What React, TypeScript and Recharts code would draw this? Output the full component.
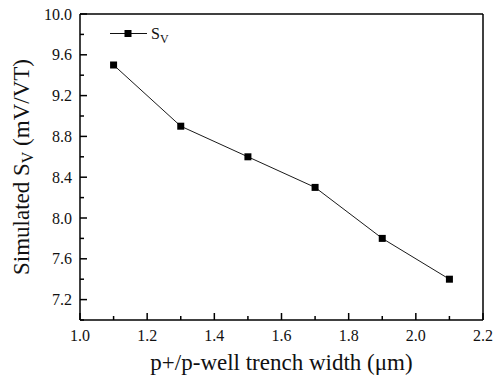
import React from "react";
import { LineChart, Line, XAxis, YAxis, Legend, ReferenceLine } from "recharts";

// Trench width (µm) vs simulated voltage sensitivity S_V (mV/VT)
const trenchWidth = [1.1, 1.3, 1.5, 1.7, 1.9, 2.1];
const svValues = [9.5, 8.9, 8.6, 8.3, 7.8, 7.4];

// All tick positions (major + minor) and the labelled major ones
const xTicks = [1.0, 1.1, 1.2, 1.3, 1.4, 1.5, 1.6, 1.7, 1.8, 1.9, 2.0, 2.1, 2.2];
const xTickLabels = ["1.0", "1.2", "1.4", "1.6", "1.8", "2.0", "2.2"];
const yTicks = [7.0, 7.2, 7.4, 7.6, 7.8, 8.0, 8.2, 8.4, 8.6, 8.8, 9.0, 9.2, 9.4, 9.6, 9.8, 10.0];
const yTickLabels = ["7.2", "7.6", "8.0", "8.4", "8.8", "9.2", "9.6", "10.0"];

const data = trenchWidth.map((w, i) => ({ w, sv: svValues[i] }));

const INK = "#000";
const FONT = '"Liberation Serif", "Times New Roman", serif';
const serif = { fontFamily: FONT };

const XTick = (props: any) => {
  const { x, y, payload } = props;
  const label = Number(payload.value).toFixed(1);
  const major = xTickLabels.includes(label);
  return (
    <g>
      <line x1={x} y1={y} x2={x} y2={y - (major ? 7 : 4)} stroke={INK} strokeWidth={1.5} />
      {major && (
        <text x={x} y={y + 21} textAnchor="middle" style={serif} fontSize={16} fill="#111">
          {label}
        </text>
      )}
    </g>
  );
};

const YTick = (props: any) => {
  const { x, y, payload } = props;
  const label = Number(payload.value).toFixed(1);
  const major = yTickLabels.includes(label);
  return (
    <g>
      <line x1={x} y1={y} x2={x + (major ? 7 : 4)} y2={y} stroke={INK} strokeWidth={1.5} />
      {major && (
        <text x={x - 8} y={y + 5.5} textAnchor="end" style={serif} fontSize={16} fill="#111">
          {label}
        </text>
      )}
    </g>
  );
};

const XLabel = (props: any) => {
  const vb = props.viewBox || {};
  const cx = vb.x + vb.width / 2;
  return (
    <text x={cx} y={vb.y + 50} textAnchor="middle" style={serif} fontSize={23} fill="#111">
      p+/p-well trench width (μm)
    </text>
  );
};

const YLabel = (props: any) => {
  const vb = props.viewBox || {};
  const cy = vb.y + vb.height / 2;
  const bx = 29;
  return (
    <text
      x={bx}
      y={cy}
      transform={`rotate(-90, ${bx}, ${cy})`}
      textAnchor="middle"
      style={serif}
      fontSize={23}
      fill="#111"
    >
      Simulated S
      <tspan fontSize={16} dy={4}>V</tspan>
      <tspan dy={-4}> (mV/VT)</tspan>
    </text>
  );
};

const SquareDot = (props: any) => {
  const { cx, cy } = props;
  if (cx == null || cy == null) return null;
  return <rect x={cx - 3.5} y={cy - 3.5} width={7} height={7} fill="#000" />;
};

const LegendContent = () => (
  <svg width={100} height={26} style={{ display: "block" }}>
    <line x1={5} y1={11.5} x2={42} y2={11.5} stroke="#111" strokeWidth={1} />
    <rect x={19.5} y={8} width={7} height={7} fill="#000" />
    <text x={46} y={17} style={serif} fontSize={16} fill="#111">
      S<tspan fontSize={12} dy={4}>V</tspan>
    </text>
  </svg>
);

export default function App() {
  return (
    <div style={{ position: "absolute", left: 0, top: 0, background: "#fff" }}>
      <LineChart width={499} height={380} data={data} margin={{ top: 14, right: 16, bottom: 0, left: 0 }}>
        <XAxis
          dataKey="w"
          type="number"
          domain={[1.0, 2.2]}
          ticks={xTicks}
          interval={0}
          height={60}
          tickSize={0}
          tickMargin={0}
          tickLine={false}
          tick={<XTick />}
          axisLine={{ stroke: INK, strokeWidth: 1.5 }}
          label={<XLabel />}
        />
        <YAxis
          type="number"
          domain={[7.0, 10.0]}
          ticks={yTicks}
          interval={0}
          width={80}
          tickSize={0}
          tickMargin={0}
          tickLine={false}
          tick={<YTick />}
          axisLine={{ stroke: INK, strokeWidth: 1.5 }}
          label={<YLabel />}
        />
        <ReferenceLine y={10.0} stroke={INK} strokeWidth={1.5} />
        <ReferenceLine x={2.2} stroke={INK} strokeWidth={1.5} />
        <Legend
          layout="horizontal"
          verticalAlign="middle"
          align="center"
          content={<LegendContent />}
          wrapperStyle={{ position: "absolute", left: 105, top: 22, width: 100, height: 26 }}
        />
        <Line
          dataKey="sv"
          stroke="#1a1a1a"
          strokeWidth={1}
          dot={<SquareDot />}
          activeDot={false}
          isAnimationActive={false}
        />
      </LineChart>
    </div>
  );
}
